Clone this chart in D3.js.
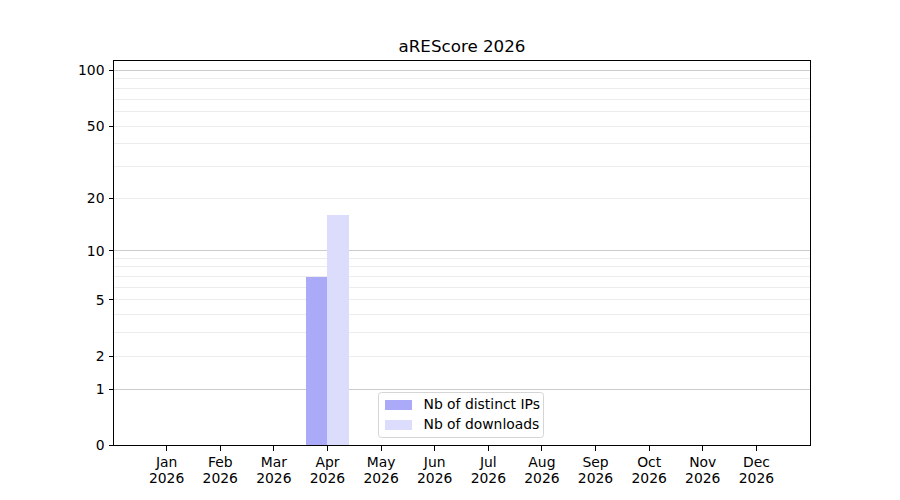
<!DOCTYPE html>
<html>
<head>
<meta charset="utf-8">
<script src="https://cdn.jsdelivr.net/npm/d3@7"></script>
<style>
  body { margin: 0; background: #fff; }
  text { font-family: "DejaVu Sans", sans-serif; fill: #000; }
  line, rect { shape-rendering: crispEdges; }
</style>
</head>
<body>
<svg id="chart" width="900" height="500"></svg>
<script>
// chart data
const months = ['Jan', 'Feb', 'Mar', 'Apr', 'May', 'Jun', 'Jul', 'Aug', 'Sep', 'Oct', 'Nov', 'Dec'];
const year = '2026';
const distinctIps = [0, 0, 0, 7, 0, 0, 0, 0, 0, 0, 0, 0];
const downloads = [0, 0, 0, 16, 0, 0, 0, 0, 0, 0, 0, 0];
const yTicks = [0, 1, 2, 5, 10, 20, 50, 100];
const majorGrid = [1, 10, 100];
const minorGrid = [2, 3, 4, 5, 6, 7, 8, 9, 20, 30, 40, 50, 60, 70, 80, 90];
const series = [
  { label: 'Nb of distinct IPs', values: distinctIps, color: '#aaaaf9', offset: -0.4 },
  { label: 'Nb of downloads', values: downloads, color: '#dcdcfc', offset: 0 }
];

const svg = d3.select('#chart');
const plot = { left: 113.5, right: 810.5, top: 60.5, bottom: 445.5 };

// log10(1 + v) scale, built on a linear scale of the transformed value
const tf = v => Math.log10(1 + v);
const yLin = d3.scaleLinear().domain([0, tf(113.2)]).range([plot.bottom, plot.top]);
const y = v => yLin(tf(v));

const x = d3.scaleLinear().domain([0, 13]).range([plot.left - 0.5, plot.right - 0.5]);
const barWidth = 0.4;

// grid
const grid = svg.append('g').attr('class', 'grid');
grid.selectAll('line.minor')
  .data(minorGrid)
  .join('line')
  .attr('class', 'minor')
  .attr('x1', plot.left).attr('x2', plot.right)
  .attr('y1', d => y(d)).attr('y2', d => y(d))
  .attr('stroke', '#ececec')
  .attr('stroke-width', 1);
grid.selectAll('line.major')
  .data(majorGrid)
  .join('line')
  .attr('class', 'major')
  .attr('x1', plot.left).attr('x2', plot.right)
  .attr('y1', d => y(d)).attr('y2', d => y(d))
  .attr('stroke', '#cccccc')
  .attr('stroke-width', 1);

// bars
series.forEach(s => {
  svg.append('g')
    .selectAll('rect')
    .data(s.values.map((v, i) => ({ v, i })).filter(d => d.v > 0))
    .join('rect')
    .attr('x', d => x(d.i + 1 + s.offset))
    .attr('width', d => x(d.i + 1 + s.offset + barWidth) - x(d.i + 1 + s.offset))
    .attr('y', d => y(d.v))
    .attr('height', d => y(0) - y(d.v))
    .attr('fill', s.color);
});

// frame
svg.append('rect')
  .attr('x', plot.left).attr('y', plot.top)
  .attr('width', plot.right - plot.left).attr('height', plot.bottom - plot.top)
  .attr('fill', 'none')
  .attr('stroke', '#000')
  .attr('stroke-width', 1);

// y axis
const yAxis = svg.append('g');
yTicks.forEach(t => {
  yAxis.append('line')
    .attr('x1', plot.left - 5).attr('x2', plot.left)
    .attr('y1', y(t)).attr('y2', y(t))
    .attr('stroke', '#000');
  yAxis.append('text')
    .attr('x', plot.left - 9).attr('y', y(t))
    .attr('dy', '0.35em')
    .attr('text-anchor', 'end')
    .attr('font-size', 13.9)
    .text(t);
});

// x axis
const xAxis = svg.append('g');
months.forEach((m, i) => {
  const px = x(i + 1);
  xAxis.append('line')
    .attr('x1', px).attr('x2', px)
    .attr('y1', plot.bottom).attr('y2', plot.bottom + 5)
    .attr('stroke', '#000');
  const t = xAxis.append('text')
    .attr('x', px).attr('y', plot.bottom + 21)
    .attr('text-anchor', 'middle')
    .attr('font-size', 13.9);
  t.append('tspan').attr('x', px).text(m);
  t.append('tspan').attr('x', px).attr('dy', 16).text(year);
});

// title
svg.append('text')
  .attr('x', (plot.left + plot.right) / 2).attr('y', 52)
  .attr('text-anchor', 'middle')
  .attr('font-size', 16.7)
  .text('aREScore 2026');

// legend
const legend = svg.append('g').attr('transform', 'translate(378.5,392.5)');
legend.append('rect')
  .attr('width', 165).attr('height', 45)
  .attr('rx', 3)
  .attr('fill', '#fff').attr('fill-opacity', 0.8)
  .attr('stroke', '#d5d5d5')
  .style('shape-rendering', 'auto');
series.forEach((s, i) => {
  legend.append('rect')
    .attr('x', 6).attr('y', 7 + i * 20)
    .attr('width', 27).attr('height', 10)
    .attr('fill', s.color);
  legend.append('text')
    .attr('x', 45).attr('y', 12 + i * 20)
    .attr('dy', '0.35em')
    .attr('font-size', 13.9)
    .text(s.label);
});
</script>
</body>
</html>
